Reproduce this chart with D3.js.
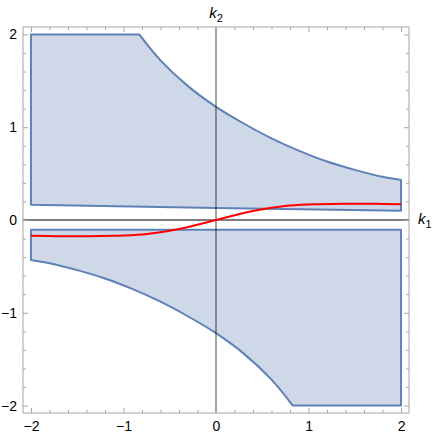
<!DOCTYPE html>
<html>
<head>
<meta charset="utf-8">
<script src="https://cdn.jsdelivr.net/npm/d3@7"></script>
<style>
  body { margin: 0; background: #fff; }
  svg { display: block; font-family: "Liberation Sans", Arial, sans-serif; }
</style>
</head>
<body>
<svg id="chart" width="436" height="436"></svg>
<script>
// upper region: curved top edge, then straight edges back to start
var upperK1 = [-0.83, -0.6, -0.3, 0, 0.3, 0.6, 0.9, 1.2, 1.5, 1.8, 2];
var upperK2 = [2.0, 1.72, 1.44, 1.22, 1.04, 0.88, 0.745, 0.63, 0.54, 0.465, 0.43];
var upperEdges = [[2, 0.1], [0, 0.128], [-2, 0.165], [-2, 2]];

// lower region: curved bottom-left edge, then straight edges
var lowerK1 = [-2, -1.8, -1.5, -1.2, -0.9, -0.6, -0.3, 0, 0.3, 0.6, 0.83];
var lowerK2 = [-0.43, -0.465, -0.54, -0.63, -0.745, -0.88, -1.04, -1.22, -1.44, -1.72, -2.0];
var lowerEdges = [[2, -2], [2, -0.105], [-2, -0.105]];

// red curve
var redK1 = [-2, -1.7, -1.4, -1.1, -0.8, -0.55, -0.36, -0.18, 0, 0.18, 0.36, 0.55, 0.8, 1.1, 1.4, 1.7, 2];
var redK2 = [-0.17, -0.174, -0.176, -0.17, -0.155, -0.123, -0.088, -0.045, 0, 0.045, 0.088, 0.123, 0.155, 0.17, 0.176, 0.174, 0.17];

var majorTicks = [-2, -1, 0, 1, 2];
var minorTicks = d3.range(-2, 2.01, 0.2).map(function(d) { return Math.round(d * 10) / 10; })
  .filter(function(d) { return majorTicks.indexOf(d) < 0; });

var svg = d3.select("#chart");
var frameL = 23, frameR = 409, frameT = 27, frameB = 413;

var x = d3.scaleLinear().domain([-2.086, 2.086]).range([frameL, frameR]);
var y = d3.scaleLinear().domain([-2.08, 2.08]).range([frameB, frameT]);

var fillColor = "rgb(207,216,232)";
var strokeColor = "#5f82b6";

var curveGen = d3.line()
  .x(function(d) { return x(d[0]); })
  .y(function(d) { return y(d[1]); })
  .curve(d3.curveCatmullRom.alpha(0.5));

function zip(a, b) { return a.map(function(v, i) { return [v, b[i]]; }); }

function regionPath(curvePts, edges) {
  var p = curveGen(curvePts);
  edges.forEach(function(e) { p += "L" + x(e[0]) + "," + y(e[1]); });
  return p + "Z";
}

var regions = svg.append("g");
regions.append("path")
  .attr("d", regionPath(zip(upperK1, upperK2), upperEdges))
  .attr("fill", fillColor)
  .attr("stroke", strokeColor)
  .attr("stroke-width", 2)
  .attr("stroke-linejoin", "round");

regions.append("path")
  .attr("d", regionPath(zip(lowerK1, lowerK2), lowerEdges))
  .attr("fill", fillColor)
  .attr("stroke", strokeColor)
  .attr("stroke-width", 2)
  .attr("stroke-linejoin", "round");

// axes through origin
svg.append("line")
  .attr("x1", frameL).attr("x2", frameR)
  .attr("y1", y(0)).attr("y2", y(0))
  .attr("stroke", "#000").attr("stroke-width", 1);
svg.append("line")
  .attr("x1", x(0)).attr("x2", x(0))
  .attr("y1", frameT).attr("y2", frameB)
  .attr("stroke", "rgba(0,0,0,0.45)").attr("stroke-width", 1.6);

// red curve
svg.append("path")
  .attr("d", d3.line()
    .x(function(d) { return x(d[0]); })
    .y(function(d) { return y(d[1]); })
    .curve(d3.curveCatmullRom.alpha(0.5))(zip(redK1, redK2)))
  .attr("fill", "none")
  .attr("stroke", "#ff0000")
  .attr("stroke-width", 2);

// frame
var frameColor = "#a6a6a6";
svg.append("rect")
  .attr("x", frameL).attr("y", frameT)
  .attr("width", frameR - frameL).attr("height", frameB - frameT)
  .attr("fill", "none").attr("stroke", frameColor).attr("stroke-width", 1);

function styleAxis(g) {
  g.select(".domain").remove();
  g.selectAll(".tick line").attr("stroke", frameColor);
  g.selectAll(".tick text").attr("fill", "#000").attr("font-size", 14);
}

// major ticks with labels
svg.append("g").attr("transform", "translate(0," + frameB + ")")
  .call(d3.axisBottom(x).tickValues(majorTicks).tickSize(-5).tickPadding(8).tickFormat(d3.format("d")))
  .call(styleAxis);
svg.append("g").attr("transform", "translate(" + frameL + ",0)")
  .call(d3.axisLeft(y).tickValues(majorTicks).tickSize(-5).tickPadding(6).tickFormat(d3.format("d")))
  .call(styleAxis);
svg.append("g").attr("transform", "translate(0," + frameT + ")")
  .call(d3.axisTop(x).tickValues(majorTicks).tickSize(-5).tickFormat(""))
  .call(styleAxis);
svg.append("g").attr("transform", "translate(" + frameR + ",0)")
  .call(d3.axisRight(y).tickValues(majorTicks).tickSize(-5).tickFormat(""))
  .call(styleAxis);

// minor ticks
svg.append("g").attr("transform", "translate(0," + frameB + ")")
  .call(d3.axisBottom(x).tickValues(minorTicks).tickSize(-3).tickFormat(""))
  .call(styleAxis);
svg.append("g").attr("transform", "translate(" + frameL + ",0)")
  .call(d3.axisLeft(y).tickValues(minorTicks).tickSize(-3).tickFormat(""))
  .call(styleAxis);
svg.append("g").attr("transform", "translate(0," + frameT + ")")
  .call(d3.axisTop(x).tickValues(minorTicks).tickSize(-3).tickFormat(""))
  .call(styleAxis);
svg.append("g").attr("transform", "translate(" + frameR + ",0)")
  .call(d3.axisRight(y).tickValues(minorTicks).tickSize(-3).tickFormat(""))
  .call(styleAxis);

// axis labels
var k2 = svg.append("text").attr("x", x(0)).attr("y", 18)
  .attr("text-anchor", "middle").attr("font-size", 15);
k2.append("tspan").attr("font-style", "italic").text("k");
k2.append("tspan").attr("font-size", 11).attr("dy", 4).text("2");

var k1 = svg.append("text").attr("x", 418).attr("y", y(0) + 4)
  .attr("text-anchor", "start").attr("font-size", 15);
k1.append("tspan").attr("font-style", "italic").text("k");
k1.append("tspan").attr("font-size", 11).attr("dy", 4).text("1");
</script>
</body>
</html>
